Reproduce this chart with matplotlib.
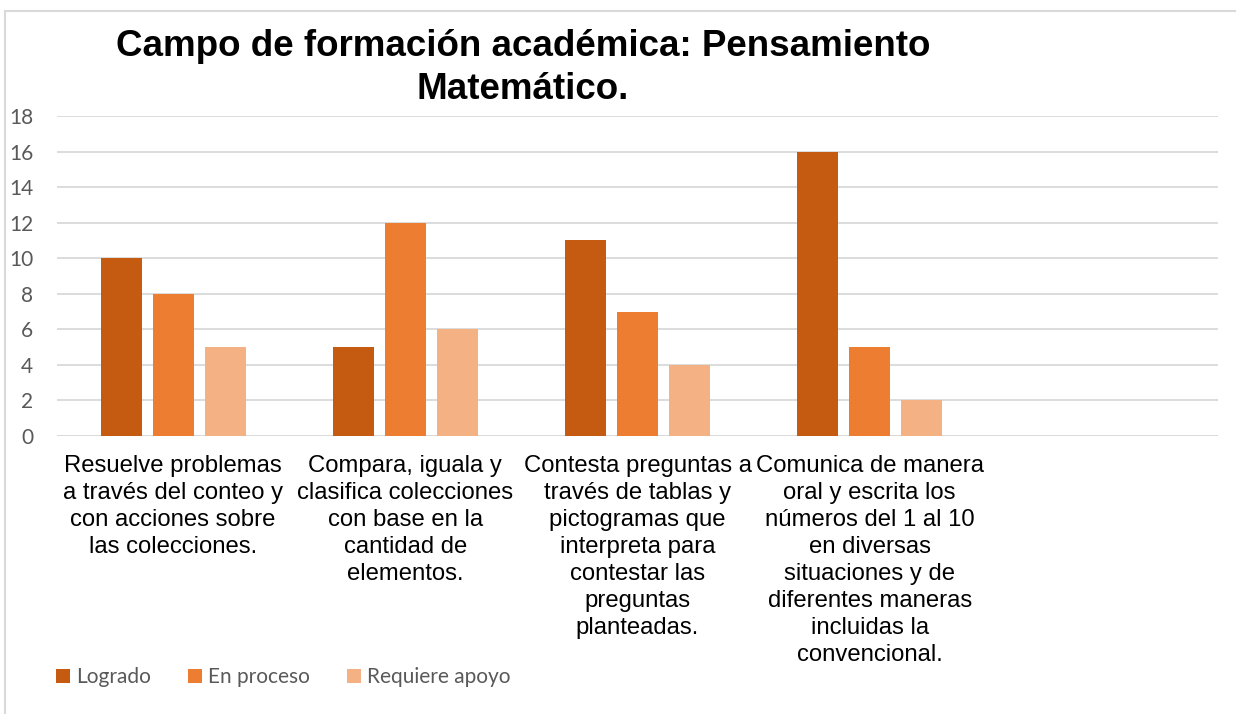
import matplotlib
matplotlib.use("Agg")
import matplotlib.pyplot as plt
import matplotlib.transforms as mtransforms
from matplotlib.patches import Rectangle
import numpy as np

categories = [
    "Resuelve problemas\na través del conteo y\ncon acciones sobre\nlas colecciones.",
    "Compara, iguala y\nclasifica colecciones\ncon base en la\ncantidad de\nelementos.",
    "Contesta preguntas a\ntravés de tablas y\npictogramas que\ninterpreta para\ncontestar las\npreguntas\nplanteadas.",
    "Comunica de manera\noral y escrita los\nnúmeros del 1 al 10\nen diversas\nsituaciones y de\ndiferentes maneras\nincluidas la\nconvencional.",
    "",
]
series_names = ["Logrado", "En proceso", "Requiere apoyo"]
logrado = [10, 5, 11, 16]
en_proceso = [8, 12, 7, 5]
requiere_apoyo = [5, 6, 4, 2]
yticks = [0, 2, 4, 6, 8, 10, 12, 14, 16, 18]
title = "Campo de formación académica: Pensamiento\nMatemático."

colors = ["#C55A11", "#ED7D31", "#F4B183"]
W, H = 1236, 714
fig = plt.figure(figsize=(W / 100, H / 100), dpi=100)
fig.patch.set_facecolor("white")

# chart border (light grey)
fig.add_artist(Rectangle((5 / W, -0.1), 1.2, 1 - 11 / H + 0.1, transform=fig.transFigure,
                         fill=False, edgecolor="#D9D9D9", lw=1.5))

ax = fig.add_axes([57 / W, 1 - 436 / H, (1218 - 57) / W, (436 - 116) / H])
ax.set_facecolor("white")

bw = 41 / 232
off = 52 / 232
for k, vals in enumerate([logrado, en_proceso, requiere_apoyo]):
    x = np.arange(len(vals)) + (k - 1) * off
    ax.bar(x, vals, width=bw, color=colors[k], label=series_names[k], zorder=3)

ax.set_xlim(-0.5, len(categories) - 0.5)
ax.set_ylim(0, 18)
ax.set_yticks(yticks)
ax.set_yticklabels([str(v) for v in yticks], fontsize=15, color="#595959", family="Lato")
ax.tick_params(axis="y", length=0, pad=17)
ax.set_xticks([])
for s in ax.spines.values():
    s.set_visible(False)
ax.grid(axis="y", color="#D9D9D9", lw=1.3, zorder=0)
ax.axhline(0, color="#D9D9D9", lw=1.3, zorder=1)

# category labels, one text per line with fixed line step
trans = mtransforms.blended_transform_factory(ax.transData, fig.transFigure)
first_base = 472
step = 27
for i, lab in enumerate(categories):
    if not lab:
        continue
    for j, line in enumerate(lab.split("\n")):
        ax.text(i, 1 - (first_base + j * step) / H, line, transform=trans,
                ha="center", va="baseline", fontsize=17.2,
                family="Liberation Sans", color="black")

# title, two lines
tbases = [56, 99]
for j, line in enumerate(title.split("\n")):
    fig.text(523 / W, 1 - tbases[j] / H, line, ha="center", va="baseline",
             fontsize=26.5, fontweight="bold", family="Liberation Sans", color="black")

leg = fig.legend(loc="center left", bbox_to_anchor=(56 / W, 1 - 677 / H), ncol=3,
                 frameon=False, borderpad=0, borderaxespad=0,
                 handlelength=0.67, handleheight=0.67,
                 handletextpad=0.29, columnspacing=1.78,
                 prop={"family": "Lato", "size": 15})
for t in leg.get_texts():
    t.set_color("#595959")

fig.savefig("out.png", dpi=100)
